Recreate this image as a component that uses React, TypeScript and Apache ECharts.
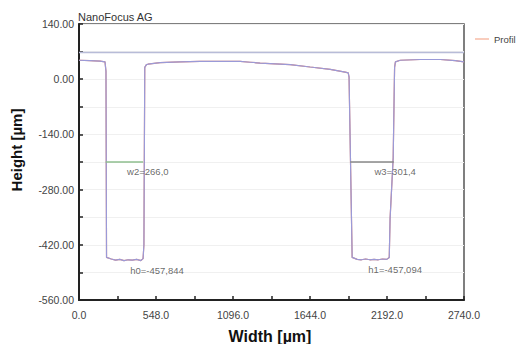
import React, { useEffect, useRef } from "react";
import * as echarts from "echarts";

const widths = [
  0, 78, 150, 185, 192, 196, 230, 260, 290, 320, 350, 380, 410, 440, 456, 462, 468, 480,
  491, 577, 719, 862, 1004, 1147, 1218, 1289, 1396, 1503, 1645, 1788, 1894, 1916,
  1922, 1944, 1980, 2010, 2040, 2070, 2100, 2130, 2160, 2190, 2208, 2214, 2236, 2246, 2252,
  2286, 2429, 2571, 2678, 2740,
];
const heights = [
  48, 47, 46, 44, 20, -452, -456, -459, -457, -460, -458, -459, -457, -460, -455, -420, 30, 37,
  38, 42, 44, 45, 45.5, 45, 43, 41, 39, 37, 31, 25, 18, 16,
  5, -452, -457, -458, -456, -458, -457, -458, -456, -457, -452, -353, -200, 30, 44,
  48, 50, 50, 47, 44,
];
const refLevel = 68;
const w2Segment = [[190, -210], [456, -210]];
const w3Segment = [[1930, -210], [2240, -210]];
const labels = [
  { text: "w2=266,0", w: 490, h: -235 },
  { text: "w3=301,4", w: 2250, h: -235 },
  { text: "h0=-457,844", w: 555, h: -485 },
  { text: "h1=-457,094", w: 2250, h: -483 },
];
const yTicks = { min: -560, max: 140, interval: 140 };
const xTicks = { min: 0, max: 2740, interval: 548 };

const FONT = "Arial, 'Liberation Sans', sans-serif";

export default function App() {
  const ref = useRef<HTMLDivElement>(null);
  useEffect(() => {
    const chart = echarts.init(ref.current!, null, { renderer: "svg" });
    const profile = widths.map((w, i) => [w, heights[i]]);
    chart.setOption({
      animation: false,
      backgroundColor: "#ffffff",
      textStyle: { fontFamily: FONT },
      title: {
        text: "NanoFocus AG",
        left: 78,
        top: 11,
        padding: 0,
        textStyle: { fontSize: 11, fontWeight: "normal", color: "#333", fontFamily: FONT },
      },
      legend: {
        left: 470,
        top: 29,
        itemWidth: 14,
        itemHeight: 1,
        data: [{ name: "Profil", icon: "rect" }],
        textStyle: { fontSize: 9.5, color: "#444", fontFamily: FONT },
      },
      grid: {
        left: 79,
        right: 54,
        top: 24,
        bottom: 44,
        show: true,
        borderColor: "#555",
        borderWidth: 1.5,
      },
      xAxis: {
        type: "value",
        min: xTicks.min,
        max: xTicks.max,
        interval: xTicks.interval,
        axisLine: { show: true, onZero: false, lineStyle: { color: "#222", width: 2 } },
        axisTick: { show: true, inside: true, length: 4, lineStyle: { color: "#222", width: 1.5 } },
        minorTick: { show: true, splitNumber: 2, length: 4, lineStyle: { color: "#222", width: 1.5 } },
        splitLine: { show: false },
        axisLabel: {
          formatter: (v: number) => v.toFixed(1),
          fontSize: 10.5,
          color: "#444",
          margin: 9,
          fontFamily: FONT,
        },
      },
      yAxis: {
        type: "value",
        min: yTicks.min,
        max: yTicks.max,
        interval: yTicks.interval,
        axisLine: { show: true, onZero: false, lineStyle: { color: "#222", width: 2 } },
        axisTick: { show: true, inside: true, length: 4, lineStyle: { color: "#222", width: 1.5 } },
        minorTick: { show: true, splitNumber: 2, length: 4, lineStyle: { color: "#222", width: 1.5 } },
        splitLine: { show: true, lineStyle: { color: "#f0f0f0", width: 1 } },
        minorSplitLine: { show: true, lineStyle: { color: "#f0f0f0", width: 1 } },
        axisLabel: {
          formatter: (v: number) => v.toFixed(2),
          fontSize: 10.5,
          color: "#444",
          margin: 5,
          fontFamily: FONT,
        },
      },
      series: [
        {
          name: "Profil",
          type: "line",
          data: profile,
          showSymbol: false,
          color: "#f29b7a",
          lineStyle: { color: "#e8826a", width: 1.2 },
          z: 2,
        },
        {
          name: "Profil-blue",
          type: "line",
          data: profile,
          showSymbol: false,
          color: "#9a9ad8",
          lineStyle: { color: "#9a9ad8", width: 1.2 },
          z: 3,
        },
        {
          name: "ref",
          type: "line",
          data: [[xTicks.min, refLevel], [xTicks.max, refLevel]],
          showSymbol: false,
          lineStyle: { color: "#b8bcd8", width: 1.5 },
          z: 1,
        },
        {
          name: "w2",
          type: "line",
          data: w2Segment,
          showSymbol: false,
          lineStyle: { color: "#8fbf8f", width: 1.5 },
          z: 4,
        },
        {
          name: "w3",
          type: "line",
          data: w3Segment,
          showSymbol: false,
          lineStyle: { color: "#888", width: 1.5 },
          z: 4,
        },
        {
          name: "labels",
          type: "scatter",
          symbolSize: 0,
          data: labels.map((l) => ({ value: [l.w, l.h], name: l.text })),
          label: {
            show: true,
            position: "inside",
            formatter: (p: any) => p.name,
            fontSize: 9.5,
            color: "#444",
            fontFamily: FONT,
          },
          z: 5,
        },
      ],
      graphic: [
        {
          type: "text",
          x: 16,
          y: 150,
          rotation: Math.PI / 2,
          style: {
            text: "Height [µm]",
            font: `bold 15px ${FONT}`,
            fill: "#111",
            align: "center",
            verticalAlign: "middle",
          },
        },
        {
          type: "text",
          x: 270,
          y: 336,
          style: {
            text: "Width [µm]",
            font: `bold 16px ${FONT}`,
            fill: "#111",
            align: "center",
            verticalAlign: "middle",
          },
        },
      ],
    });
    return () => chart.dispose();
  }, []);
  return (
    <div
      ref={ref}
      style={{ position: "fixed", left: 0, top: 0, width: 518, height: 344 }}
    />
  );
}
